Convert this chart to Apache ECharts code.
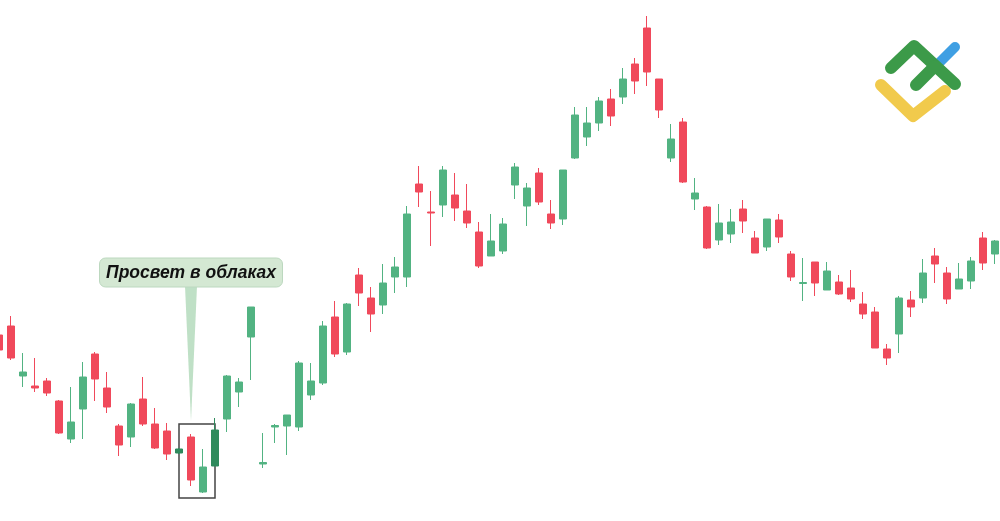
<!DOCTYPE html>
<html>
<head>
<meta charset="utf-8">
<script src="https://cdn.jsdelivr.net/npm/echarts@6/dist/echarts.min.js"></script>
<style>
html,body{margin:0;padding:0;background:#fff;}
#c{width:1000px;height:521px;}
</style>
</head>
<body>
<div id="c"></div>
<script>
// Candle values (price units), one entry per bar
const opens  = [186,195,145,135,140,120,82,112,167,133,95,84,122,97,90,68,84,29,55,102,129,184,57,94,95,94,126,138,204,169,246,223,216,244,244,337,309,316,326,310,289,265,270,336,315,348,307,302,363,384,398,422,424,457,493,442,363,399,322,314,281,287,312,283,274,301,267,237.5,259,231,239,233,217,209,172,187,221,223,265,248,232,240,283,267];
const closes = [171,163,149,133,128,88,99,144,142,114,76,117,97,73,67,72,41,54,91,145,139,214,58.5,95.5,106,158,140,195,167,217,228,207,238,254,307,329,308,351,313,298,255,280,297,354,333,319,298,351,406,398,420,405,442,440,449,411,382,339,328,273,298,299,300,268,302,284,244,238.5,238,250,227,222,207,173,163,223,214,248,257,222,242,260,258,280];
const lows   = [169,161,134,129,125,87,78,82,120,108,65,74,95,72,61,67,35,28,55,89,114,141,53,78,66,90,121,136,164,166,215,189,207,228,234,314,275,304,300,293,253,265,267,322,295,316,292,296,362,375,390,395,417,427,435,403,359,338,311,272,276,278,288,268,270,278,240,220,225,231,226,219,202,173,156,168,204,218,238,217,232,232,251,257];
const highs  = [188,205,168,163,143,121,134,159,169,149,97,118,144,113,98,73,87,72,103,146,143,214,88,97,106,160,158,200,220,218,253,234,257,264,315,355,330,355,348,337,299,307,303,358,338,353,321,351,414,414,424,432,453,463,505,442,397,403,343,315,317,312,321,290,302,307,270,263,259,259,246,251,229,214,177,225,230,262,273,254,258,264,289,281];
const categories = opens.map((_, i) => 'D' + (i + 1));
const calloutText = 'Просвет в облаках';
const boxStart = 15, boxEnd = 18;       // bars framed by the rectangle
const boxLow = 23, boxHigh = 97;        // price range of the frame
const calloutBar = 16, calloutTip = 100;// where the callout points
const darkBars = [15, 18];

const GREEN = '#52b382', RED = '#f0495b', DARK = '#2f8a5c';

const data = opens.map((o, i) => {
  const item = { value: [o, closes[i], lows[i], highs[i]] };
  if (darkBars.includes(i)) item.itemStyle = { color: DARK, borderColor: DARK };
  return item;
});

const chart = echarts.init(document.getElementById('c'), null, { renderer: 'canvas' });
chart.setOption({
  backgroundColor: '#ffffff',
  animation: false,
  grid: { left: -7, right: -1, top: 0, bottom: 0, outerBoundsMode: 'none', containLabel: false },
  xAxis: { type: 'category', data: categories, show: false, boundaryGap: true },
  yAxis: { type: 'value', min: 0, max: 521, show: false },
  series: [{
    type: 'candlestick',
    data: data,
    barWidth: 7,
    itemStyle: { color: GREEN, color0: RED, borderColor: GREEN, borderColor0: RED, borderWidth: 1 },
    markArea: {
      silent: true,
      itemStyle: { color: 'rgba(0,0,0,0)', borderColor: '#444', borderWidth: 1.5 },
      data: [[{ xAxis: boxStart, yAxis: boxLow }, { xAxis: boxEnd, yAxis: boxHigh }]]
    }
  }]
});

const tip = chart.convertToPixel({ seriesIndex: 0 }, [calloutBar, calloutTip]);
const cx = tip[0];
const boxW = 183, boxH = 29, boxTop = 258;
chart.setOption({
  graphic: [
    {
      type: 'polygon', z: 50,
      shape: { points: [[cx - 6, boxTop + boxH - 1], [cx + 6, boxTop + boxH - 1], [cx, tip[1]]] },
      style: { fill: 'rgba(180,218,188,0.85)' }
    },
    {
      type: 'rect', z: 51,
      shape: { x: cx - boxW / 2, y: boxTop, width: boxW, height: boxH, r: 6 },
      style: { fill: '#d4e8d3', stroke: '#bcd8bf', lineWidth: 1 }
    },
    {
      type: 'text', z: 52,
      style: {
        x: cx, y: boxTop + boxH / 2 + 1, text: calloutText,
        font: 'italic bold 17.5px "Liberation Sans", Arial, sans-serif',
        fill: '#111', align: 'center', verticalAlign: 'middle'
      }
    },
    // logo
    { type: 'polyline', z: 60, shape: { points: [[938, 64], [955, 47]] },
      style: { stroke: '#3f9fe3', lineWidth: 10, lineCap: 'round', fill: null } },
    { type: 'polyline', z: 61, shape: { points: [[891, 68], [914, 46], [955, 84]] },
      style: { stroke: '#3c9a49', lineWidth: 12, lineCap: 'round', lineJoin: 'round', fill: null } },
    { type: 'polyline', z: 61, shape: { points: [[916, 85], [935, 66]] },
      style: { stroke: '#3c9a49', lineWidth: 12, lineCap: 'round', fill: null } },
    { type: 'polyline', z: 60, shape: { points: [[881, 85], [913, 116], [945, 91]] },
      style: { stroke: '#f1ca4c', lineWidth: 12, lineCap: 'round', lineJoin: 'round', fill: null } }
  ]
});
</script>
</body>
</html>
